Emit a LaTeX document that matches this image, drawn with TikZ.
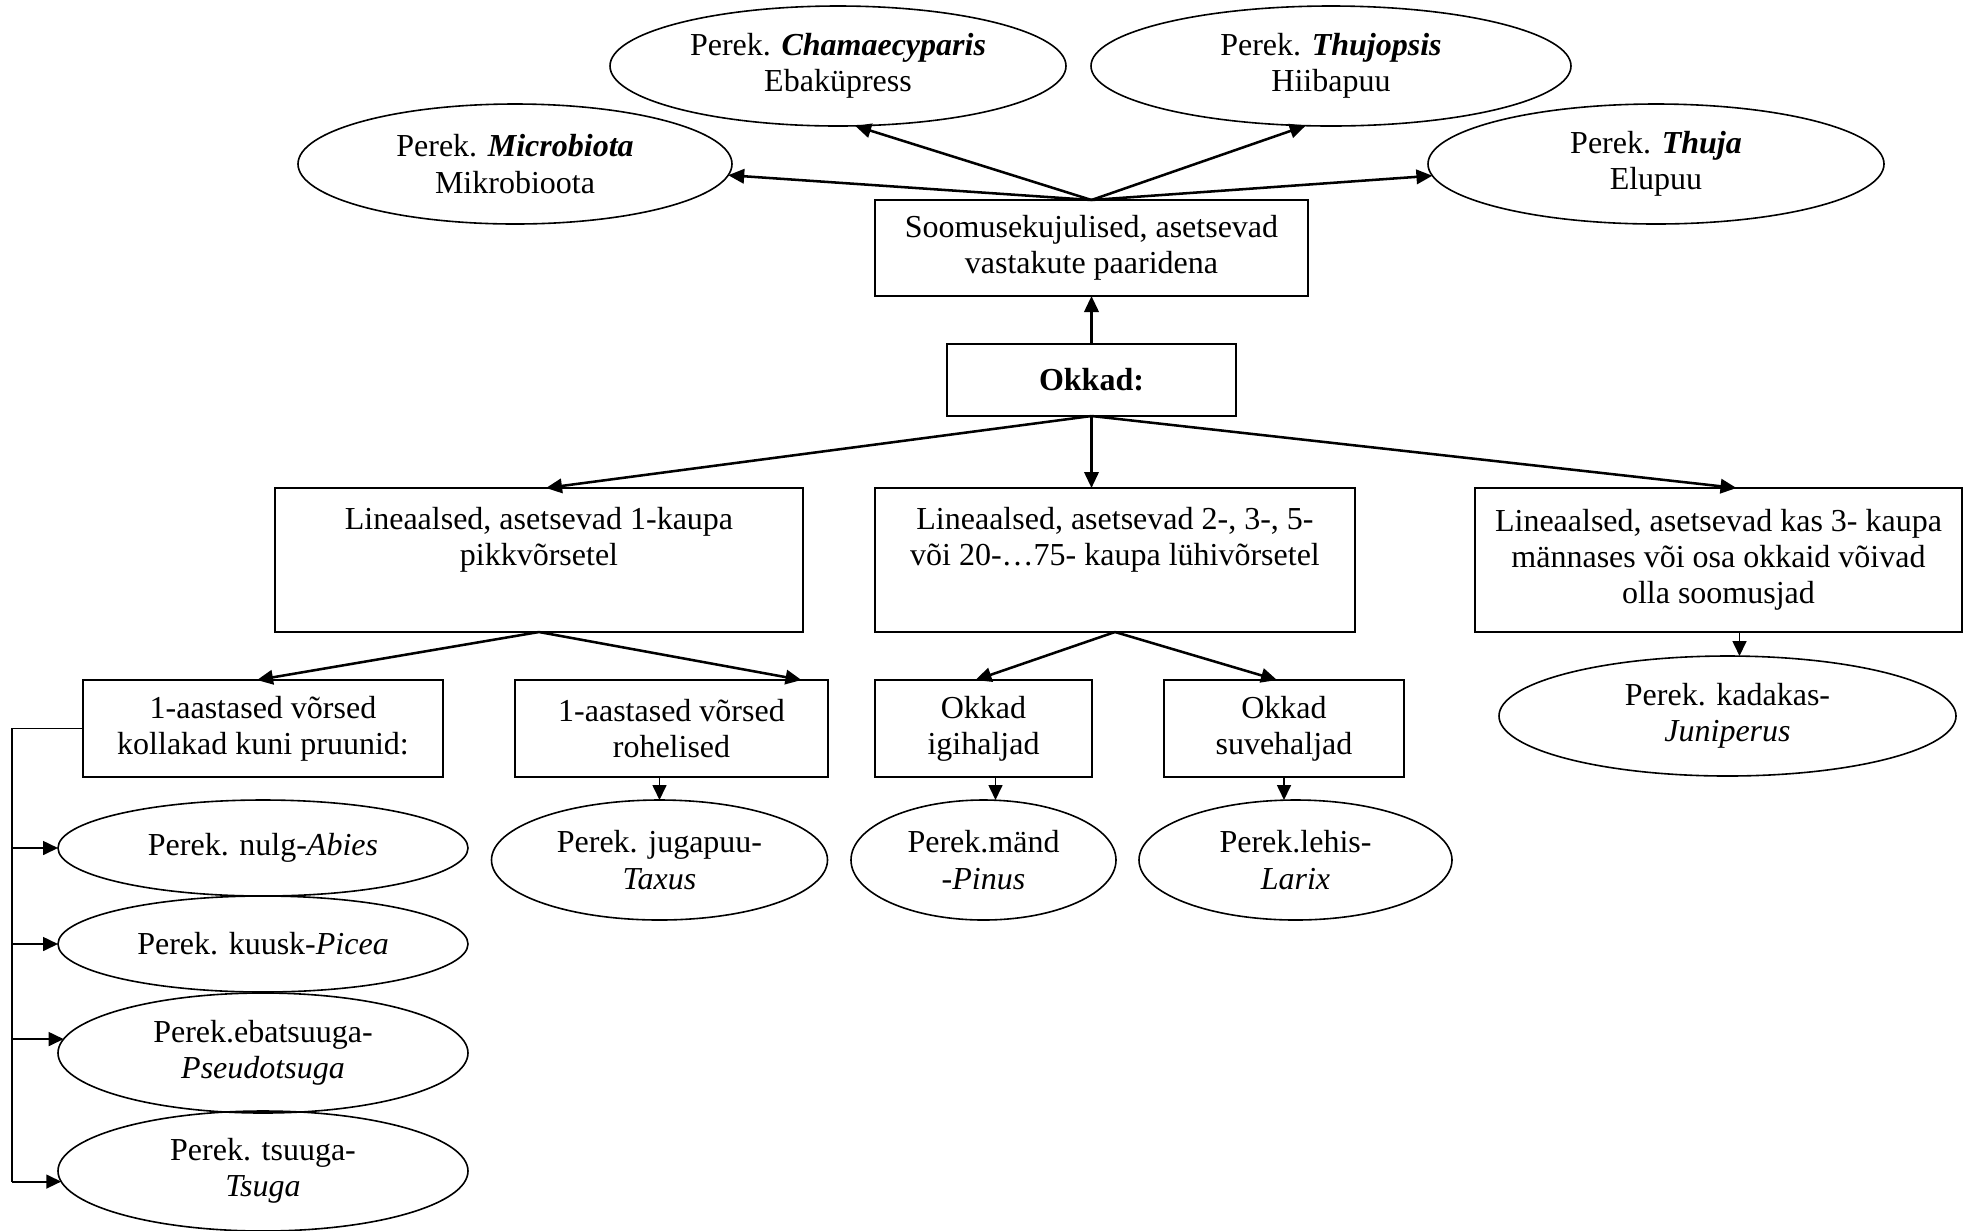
\documentclass[tikz,border=0pt]{standalone}
\usepackage{fontspec}
\setmainfont{Liberation Serif}
\usetikzlibrary{shapes.geometric,arrows.meta,calc}

\begin{document}
\begin{tikzpicture}[x=0.375pt,y=-0.375pt,
  txt/.style={font=\fontsize{12pt}{13.6pt}\selectfont, align=center, inner sep=0pt, outer sep=0pt},
  sz/.style 2 args={minimum width=#1*0.375pt, minimum height=#2*0.375pt},
  box/.style={txt, draw, line width=0.6pt, rectangle},
  oval/.style={txt, draw, line width=0.6pt, ellipse},
  link/.style={line width=0.95pt, -{Triangle[length=6pt,width=5.4pt]}},
  thinlink/.style={line width=0.7pt, -{Triangle[length=5.6pt,width=5.2pt]}},
]
\useasboundingbox (0,0) rectangle (1964,1230);

% scale-leaved genera
\node[oval, sz={434}{120}] (micro) at (515,164) {Perek. \textbf{\textit{Microbiota}}\\Mikrobioota};
\node[oval, sz={456}{120}] (cham) at (838,66) {Perek. \textbf{\textit{Chamaecyparis}}\\Ebaküpress};
\node[oval, sz={480}{120}] (thujo) at (1331,66) {Perek. \textbf{\textit{Thujopsis}}\\Hiibapuu};
\node[oval, sz={456}{120}] (thuja) at (1656,164) {Perek. \textbf{\textit{Thuja}}\\Elupuu};

% key boxes
\node[box, sz={433}{96}] (soom) at (1091.5,248) {Soomusekujulised, asetsevad\\vastakute paaridena};
\node[box, sz={289}{72}] (okk) at (1091.5,380) {\textbf{Okkad:}};
\node[box, sz={528}{144}] (lin1) at (539,560) {Lineaalsed, asetsevad 1-kaupa\\pikkvõrsetel\\\strut};
\node[box, sz={480}{144}] (lin2) at (1115,560) {Lineaalsed, asetsevad 2-, 3-, 5-\\või 20-…75- kaupa lühivõrsetel\\\strut};
\node[box, sz={487}{144}] (lin3) at (1718.5,560) {Lineaalsed, asetsevad kas 3- kaupa\\männases või osa okkaid võivad\\olla soomusjad};
\node[box, sz={360}{97}] (kolla) at (263,728.5) {1-aastased võrsed\\kollakad kuni pruunid:};
\node[box, sz={313}{97}] (rohe) at (671.5,728.5) {1-aastased võrsed\\rohelised};
\node[box, sz={217}{97}] (igi) at (983.5,728.5) {Okkad\\igihaljad};
\node[box, sz={240}{97}] (suve) at (1284,728.5) {Okkad\\suvehaljad};

% needle-leaved genera
\node[oval, sz={410}{96}] (abies) at (263,848) {Perek. nulg-\textit{Abies}};
\node[oval, sz={410}{96}] (picea) at (263,944) {Perek. kuusk-\textit{Picea}};
\node[oval, sz={410}{120}] (pseudo) at (263,1053) {Perek.ebatsuuga-\\\textit{Pseudotsuga}};
\node[oval, sz={410}{120}] (tsuga) at (263,1171) {Perek. tsuuga-\\\textit{Tsuga}};
\node[oval, sz={336}{120}] (taxus) at (659.5,860) {Perek. jugapuu-\\\textit{Taxus}};
\node[oval, sz={265}{120}] (pinus) at (983.5,860) {Perek.mänd\\\textit{-Pinus}};
\node[oval, sz={313}{120}] (larix) at (1295.5,860) {Perek.lehis-\\\textit{Larix}};
\node[oval, sz={457}{120}] (juni) at (1727.5,716) {Perek. kadakas-\\\textit{Juniperus}};

% connectors at the top
\draw[link] (soom.north) -- (micro.-3.5);
\draw[link] (soom.north) -- (cham.-74);
\draw[link] (soom.north) -- (thujo.-113);
\draw[link] (soom.north) -- (thuja.183);
\draw[link] (okk.north) -- (soom.south);

% connectors from Okkad
\draw[link] (okk.south) -- ($(lin1.north)+(7,0)$);
\draw[link] (okk.south) -- (okk.south |- lin2.north);
\draw[link] (okk.south) -- ($(lin3.north)+(18,0)$);

% second level
\draw[link] (lin1.south) -- ($(kolla.north)+(-6,0)$);
\draw[link] (lin1.south) -- ($(rohe.north)+(130,0)$);
\draw[link] (lin2.south) -- ($(igi.north)+(-8,0)$);
\draw[link] (lin2.south) -- ($(suve.north)+(-7,0)$);

% short drops to the genera
\draw[thinlink] (taxus.north |- rohe.south) -- (taxus.north);
\draw[thinlink] ($(igi.south)+(12,0)$) -- ($(pinus.north)+(12,0)$);
\draw[thinlink] (suve.south) -- (suve.south |- larix.north);
\draw[thinlink] ($(lin3.south)+(21,0)$) -- ($(juni.north)+(12,0)$);

% bracket on the left
\coordinate (bus) at (12,728.5);
\draw[line width=0.7pt] (kolla.west) -- (bus) -- (bus |- tsuga.183);
\draw[thinlink] (bus |- abies.west) -- (abies.west);
\draw[thinlink] (bus |- picea.west) -- (picea.west);
\draw[thinlink] (bus |- pseudo.176) -- (pseudo.176);
\draw[thinlink] (bus |- tsuga.183) -- (tsuga.183);
\end{tikzpicture}
\end{document}
